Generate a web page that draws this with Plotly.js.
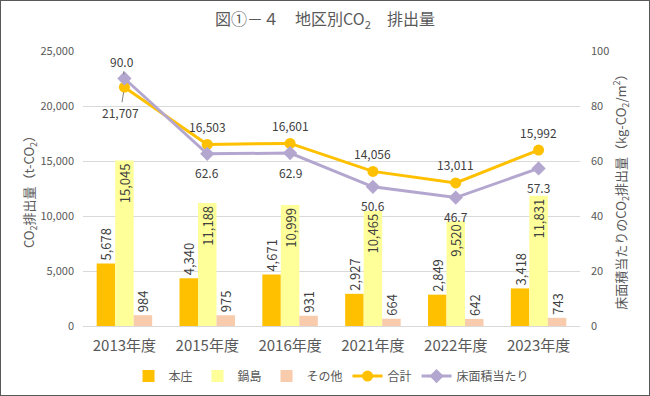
<!DOCTYPE html>
<html><head><meta charset="utf-8">
<script src="https://cdn.plot.ly/plotly-3.0.1.min.js"></script>
<style>
html,body{margin:0;padding:0;background:#fff;}
#wrap{position:relative;width:650px;height:396px;}
#chart{position:absolute;left:0;top:0;width:650px;height:396px;}
#frame{position:absolute;left:0;top:0;width:650px;height:396px;box-sizing:border-box;border:1px solid #595959;pointer-events:none;}
</style></head>
<body>
<div id="wrap"><div id="chart"></div><div id="frame"></div></div>
<script>
const categories = ["2013年度","2015年度","2016年度","2021年度","2022年度","2023年度"];
const honjo = [5678, 4340, 4671, 2927, 2849, 3418];
const nabeshima = [15045, 11188, 10999, 10465, 9520, 11831];
const others = [984, 975, 931, 664, 642, 743];
const total = [21707, 16503, 16601, 14056, 13011, 15992];
const perArea = [90.0, 62.6, 62.9, 50.6, 46.7, 57.3];

const FONT = '"Noto Sans CJK JP", "Noto Sans", sans-serif';
const TXT = '#404040';
const fmt = v => v.toLocaleString('en-US');

const barCommon = {
  type:'bar', x:categories, textangle:-90,
  textfont:{family:FONT,size:13,color:TXT},
  outsidetextfont:{family:FONT,size:13,color:TXT},
  hoverinfo:'skip', cliponaxis:false, constraintext:'none'
};
const traces = [
  Object.assign({}, barCommon, {name:'本庄', y:honjo, marker:{color:'#FFC000'},
    text:honjo.map(fmt), textposition:'outside'}),
  Object.assign({}, barCommon, {name:'鍋島', y:nabeshima, marker:{color:'#FFFF99'},
    text:nabeshima.map(fmt), textposition:'inside', insidetextanchor:'end',
    insidetextfont:{family:FONT,size:13,color:TXT}}),
  Object.assign({}, barCommon, {name:'その他', y:others, marker:{color:'#F8CBAD'},
    text:others.map(fmt), textposition:'outside'}),
  {type:'scatter', mode:'lines+markers', name:'合計', x:categories, y:total,
    line:{color:'#FFC000',width:3}, marker:{symbol:'circle',size:11,color:'#FFC000'}},
  {type:'scatter', mode:'lines+markers', name:'床面積当たり', x:categories, y:perArea, yaxis:'y2',
    line:{color:'#B4A7CF',width:3}, marker:{symbol:'diamond',size:11,color:'#B4A7CF'}}
];

const annotations = [];
total.forEach((v,i)=>{
  if(i===0){
    annotations.push({x:categories[i], y:v, xref:'x', yref:'y', text:fmt(v), showarrow:true,
      arrowhead:0, arrowwidth:1, arrowcolor:'#808080', ax:-4, ay:25, standoff:5,
      font:{family:FONT,size:12,color:TXT}});
  } else {
    annotations.push({x:categories[i], y:v, xref:'x', yref:'y', text:fmt(v), showarrow:false,
      yshift:18, font:{family:FONT,size:12,color:TXT}});
  }
});
perArea.forEach((v,i)=>{
  const t = v.toFixed(1);
  if(i===0){
    annotations.push({x:categories[i], y:v, xref:'x', yref:'y2', text:t, showarrow:true,
      arrowhead:0, arrowwidth:1, arrowcolor:'#808080', ax:-2, ay:-17, standoff:4,
      font:{family:FONT,size:12,color:TXT}});
  } else {
    annotations.push({x:categories[i], y:v, xref:'x', yref:'y2', text:t, showarrow:false,
      yshift:-19, font:{family:FONT,size:12,color:TXT}});
  }
});

const layout = {
  width:650, height:396,
  margin:{l:83,r:70,t:51,b:70, autoexpand:false},
  paper_bgcolor:'#fff', plot_bgcolor:'#fff',
  font:{family:FONT,color:'#595959'},
  title:{text:'図①－４　地区別CO<sub>2</sub>　排出量', x:0.5, xanchor:'center', y:0.95, yanchor:'middle',
    font:{family:FONT,size:16,color:'#595959'}},
  barmode:'group', bargap:0.33, bargroupgap:0,
  uniformtext:{mode:'show', minsize:13},
  showlegend:true,
  legend:{orientation:'h', x:0.5, xanchor:'center', y:-0.182, yanchor:'middle',
    font:{family:FONT,size:12,color:'#595959'}, itemwidth:30, traceorder:'normal'},
  xaxis:{type:'category', tickfont:{family:FONT,size:15,color:'#595959'}, showgrid:false,
    showline:false, ticks:'', automargin:false, ticklabelstandoff:9},
  yaxis:{range:[0,25000], dtick:5000, tickformat:',d', gridcolor:'#D9D9D9', gridwidth:1,
    zeroline:true, zerolinecolor:'#D9D9D9', zerolinewidth:1, ticklabelstandoff:8,
    tickfont:{family:FONT,size:11,color:'#595959'}, ticks:'', automargin:false,
    title:{text:'CO<sub>2</sub>排出量（t-CO<sub>2</sub>）', standoff:2, font:{family:FONT,size:13,color:'#595959'}}},
  yaxis2:{range:[0,100], dtick:20, overlaying:'y', side:'right', showgrid:false, zeroline:false,
    tickfont:{family:FONT,size:11,color:'#595959'}, ticks:'', automargin:false, ticklabelstandoff:10,
    title:{text:'床面積当たりのCO<sub>2</sub>排出量（kg-CO<sub>2</sub>/m<sup>2</sup>）', standoff:8,
      font:{family:FONT,size:13,color:'#595959'}}},
  annotations:annotations
};
Plotly.newPlot('chart', traces, layout, {staticPlot:true, displayModeBar:false});
</script>
</body></html>
